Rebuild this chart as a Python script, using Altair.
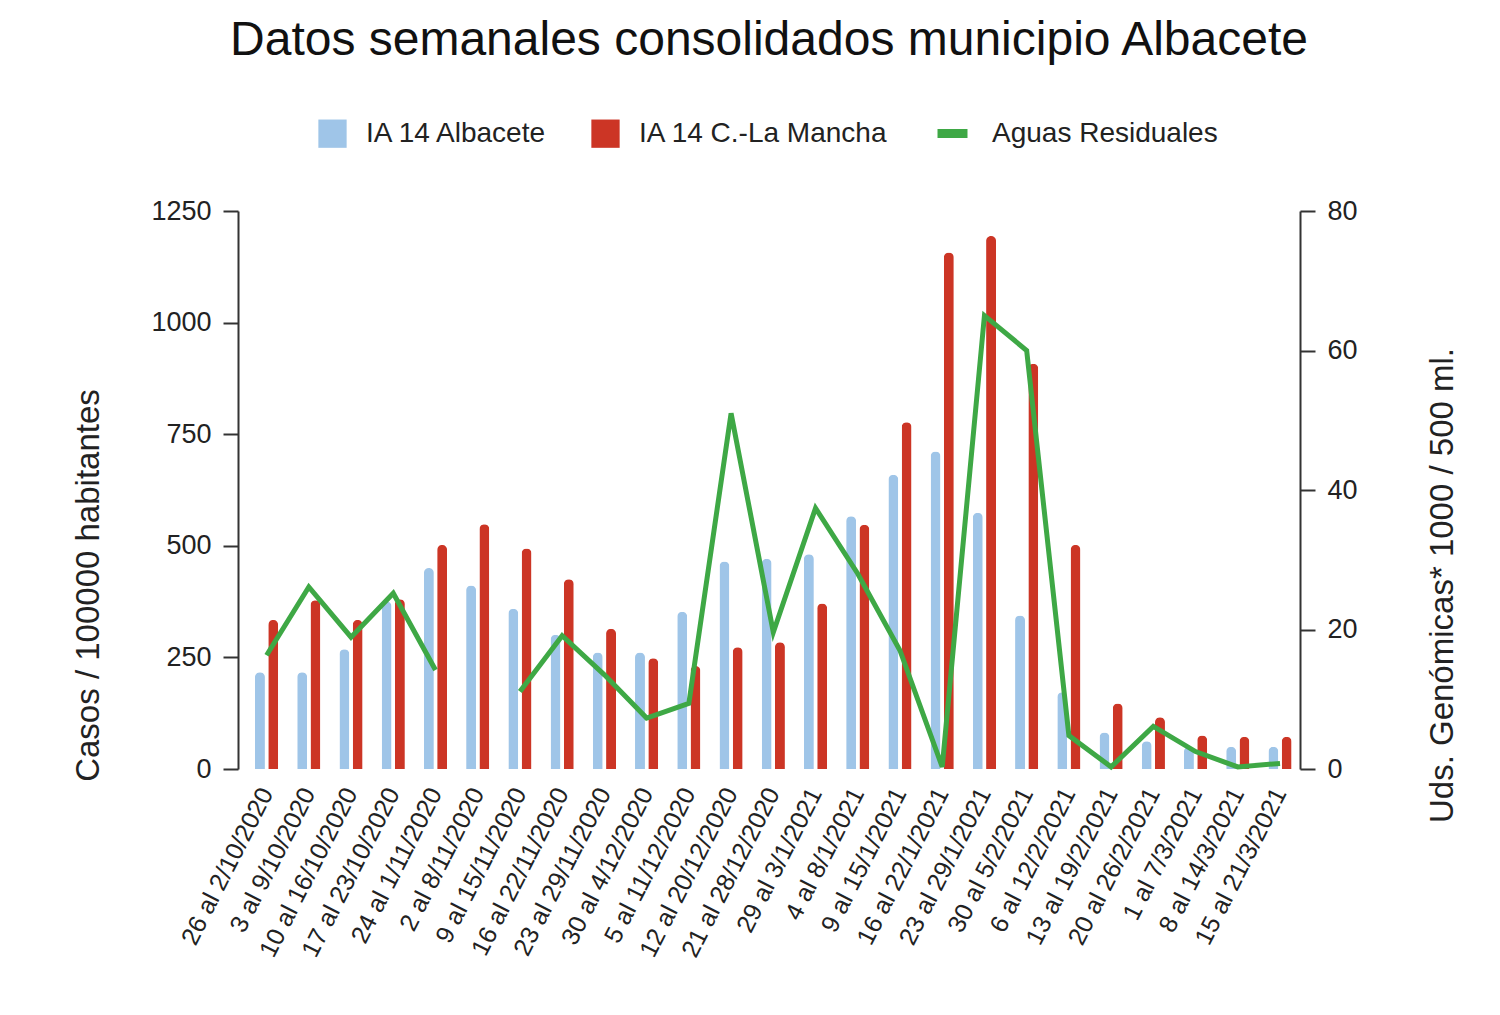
import altair as alt
import pandas as pd

weeks = ["26 al 2/10/2020", "3 al 9/10/2020", "10 al 16/10/2020", "17 al 23/10/2020",
         "24 al 1/11/2020", "2 al 8/11/2020", "9 al 15/11/2020", "16 al 22/11/2020",
         "23 al 29/11/2020", "30 al 4/12/2020", "5 al 11/12/2020", "12 al 20/12/2020",
         "21 al 28/12/2020", "29 al 3/1/2021", "4 al 8/1/2021", "9 al 15/1/2021",
         "16 al 22/1/2021", "23 al 29/1/2021", "30 al 5/2/2021", "6 al 12/2/2021",
         "13 al 19/2/2021", "20 al 26/2/2021", "1 al 7/3/2021", "8 al 14/3/2021",
         "15 al 21/3/2021"]

ia_albacete = [217, 217, 268, 375, 450, 411, 359, 301, 261, 261, 352, 465, 471,
               481, 566, 659, 711, 574, 344, 172, 82, 62, 50, 50, 50]
ia_clm = [334, 378, 334, 380, 502, 548, 494, 425, 314, 248, 231, 273, 284,
          371, 547, 777, 1157, 1194, 908, 502, 147, 116, 75, 72, 72]
aguas = [16.3, 26.1, 18.9, 25.2, 14.2, None, 11.1, 19.1, 13.5, 7.3, 9.4, 51.0, 19.6,
         37.4, 28.0, 17.0, 0.3, 65.0, 60.0, 4.8, 0.3, 6.1, 2.5, 0.3, 0.8]

series_bar = ["IA 14 Albacete", "IA 14 C.-La Mancha"]
series_line = ["Aguas Residuales"]

bars = pd.DataFrame({
    "semana": weeks * 2,
    "serie": [series_bar[0]] * len(weeks) + [series_bar[1]] * len(weeks),
    "valor": ia_albacete + ia_clm,
})
line = pd.DataFrame({"semana": weeks, "serie": series_line * len(weeks), "valor": aguas})

FONT = "Liberation Sans"

x_enc = alt.X("semana:N", sort=weeks, title=None,
              scale=alt.Scale(paddingInner=0.45, paddingOuter=0.3, align=0.67),
              axis=alt.Axis(labelAngle=-63, labelFontSize=25, labelColor="#222",
                            labelFont=FONT, ticks=False, domain=False, labelPadding=20,
                            labelLimit=0))

bar_layer = alt.Chart(bars).mark_bar(
    cornerRadiusTopLeft=5, cornerRadiusTopRight=5
).encode(
    x=x_enc,
    xOffset=alt.XOffset("serie:N", sort=series_bar, scale=alt.Scale(paddingInner=0.25)),
    y=alt.Y("valor:Q", scale=alt.Scale(domain=[0, 1250]),
            axis=alt.Axis(values=[0, 250, 500, 750, 1000, 1250], grid=False, format="d",
                          title="Casos / 100000 habitantes", titleFontSize=33,
                          titleFont=FONT, titleFontWeight="normal", titleColor="#222",
                          titleX=-150, titleY=374, titleAlign="center",
                          titleBaseline="middle", titleAngle=270,
                          labelFontSize=27, labelFont=FONT, labelColor="#222",
                          tickSize=15, tickColor="#333", domainColor="#333",
                          tickWidth=2, domainWidth=2, labelPadding=12)),
    color=alt.Color("serie:N", sort=series_bar,
                    scale=alt.Scale(domain=series_bar, range=["#9fc5e8", "#cc3525"]),
                    legend=alt.Legend(title=None, orient="none", direction="horizontal",
                                      legendX=80, legendY=-92, symbolType="square",
                                      symbolSize=800, labelFontSize=28, labelFont=FONT,
                                      labelColor="#222", columnPadding=42,
                                      symbolStrokeWidth=0, labelOffset=19, labelLimit=0)),
)

line_layer = alt.Chart(line).mark_line(
    strokeWidth=5, invalid="break-paths-show-domains"
).encode(
    x=alt.X("semana:N", sort=weeks),
    y=alt.Y("valor:Q", scale=alt.Scale(domain=[0, 80]),
            axis=alt.Axis(values=[0, 20, 40, 60, 80], grid=False, orient="right",
                          title="Uds. Genómicas* 1000 / 500 ml.", titleFontSize=33,
                          titleFont=FONT, titleFontWeight="normal", titleColor="#222",
                          titleX=142, titleY=374, titleAlign="center",
                          titleBaseline="middle", titleAngle=270,
                          labelFontSize=27, labelFont=FONT,
                          labelColor="#222", tickSize=15, tickColor="#333",
                          domainColor="#333", tickWidth=2, domainWidth=2,
                          labelPadding=12)),
    stroke=alt.Stroke("serie:N",
                      scale=alt.Scale(domain=series_line, range=["#3ea845"]),
                      legend=alt.Legend(title=None, orient="none", legendX=695,
                                        legendY=-97, symbolType="stroke",
                                        symbolStrokeWidth=9, symbolSize=900,
                                        labelFontSize=28, labelFont=FONT,
                                        labelColor="#222", labelOffset=20,
                                        labelLimit=0)),
)

chart = alt.layer(bar_layer, line_layer).resolve_scale(
    y="independent", color="independent", stroke="independent"
).properties(
    width=1062, height=558,
    title=alt.TitleParams("Datos semanales consolidados municipio Albacete",
                          fontSize=48, font=FONT, fontWeight="normal", color="#111",
                          anchor="middle", offset=49),
    padding={"left": 64, "top": 9, "right": 20, "bottom": 10},
).configure_view(stroke=None)

chart.save("out.html", embed_options={"renderer": "svg", "actions": False})
